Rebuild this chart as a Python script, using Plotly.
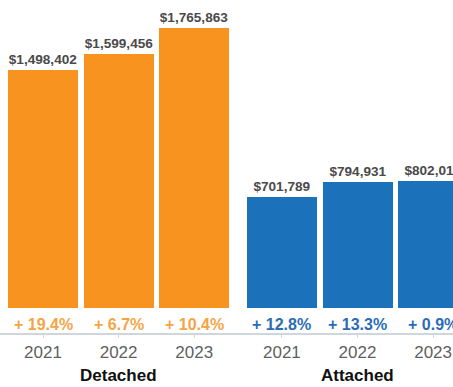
import plotly.graph_objects as go

# Median sale prices by dwelling type and year
years = ["2021", "2022", "2023"]
detached_prices = [1498402, 1599456, 1765863]
attached_prices = [701789, 794931, 802013]
detached_change = ["+ 19.4%", "+ 6.7%", "+ 10.4%"]
attached_change = ["+ 12.8%", "+ 13.3%", "+ 0.9%"]
groups = ["Detached", "Attached"]

ORANGE = "#F7931E"
ORANGE_TXT = "#F5A445"
BLUE = "#1C72BA"
BLUE_TXT = "#2B6DB4"
FONT = "Arial, Liberation Sans, sans-serif"

W, H = 453, 387
unit = 75.6            # pixels per category slot
x0_px = 43             # pixel centre of the first bar
base_px = 308          # pixel row of the bar baseline
axis_px = 333          # pixel row of the category axis line
px_per_dollar = 280 / 1765863

x_det = [0, 1, 2]
x_att = [3.16, 4.16, 5.16]
bar_w = 70 / unit

dollars_per_px = 1 / px_per_dollar
y_min = -(axis_px - base_px) * dollars_per_px
y_max = base_px * dollars_per_px

fig = go.Figure()
for xs, vals, col in [(x_det, detached_prices, ORANGE), (x_att, attached_prices, BLUE)]:
    fig.add_trace(go.Bar(
        x=xs, y=vals, width=bar_w,
        marker=dict(color=col, line=dict(width=0)),
        texttemplate="$%{y:,}", textposition="outside",
        outsidetextfont=dict(family=FONT, size=13.6, color="#4a4a4a", weight="bold"),
        constraintext="none", cliponaxis=True,
        hoverinfo="skip", showlegend=False,
    ))

annotations = []
for xs, labels, col in [(x_det, detached_change, ORANGE_TXT), (x_att, attached_change, BLUE_TXT)]:
    for x, t in zip(xs, labels):
        annotations.append(dict(
            x=x, y=0, xref="x", yref="y", text=t, showarrow=False,
            yanchor="middle", yshift=-(324 - base_px),
            font=dict(family=FONT, size=16, color=col, weight="bold"),
        ))

for xs, name in [(x_det, groups[0]), (x_att, groups[1])]:
    annotations.append(dict(
        x=sum(xs) / len(xs), y=-(375 - axis_px) / axis_px, xref="x", yref="paper",
        text=name, showarrow=False, yanchor="middle",
        font=dict(family=FONT, size=17, color="#111111", weight="bold"),
    ))

fig.update_layout(
    width=W, height=H,
    margin=dict(l=0, r=0, t=0, b=H - axis_px),
    plot_bgcolor="white", paper_bgcolor="white",
    bargap=0,
    annotations=annotations,
    xaxis=dict(
        range=[-x0_px / unit, (W - x0_px) / unit],
        tickvals=x_det + x_att, ticktext=years + years,
        showline=True, linecolor="#cfd6de", linewidth=1.5,
        ticks="outside", ticklen=3, tickcolor="#cfd6de",
        tickfont=dict(family=FONT, size=17, color="#5f5f5f"),
        showgrid=False, zeroline=False, fixedrange=True,
    ),
    yaxis=dict(
        range=[y_min, y_max], visible=False,
        showgrid=False, zeroline=False, fixedrange=True,
    ),
)

fig.write_html("out.html", config={"displayModeBar": False})
